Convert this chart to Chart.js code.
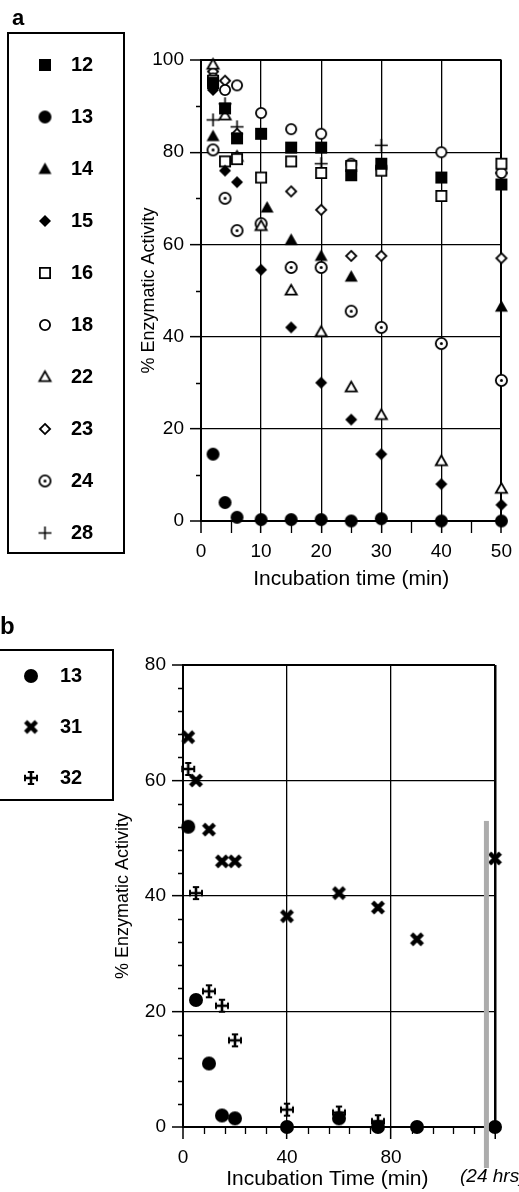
<!DOCTYPE html>
<html>
<head>
<meta charset="utf-8">
<script src="https://cdn.jsdelivr.net/npm/chart.js@4/dist/chart.umd.min.js"></script>
<style>
  html, body { margin: 0; padding: 0; background: #fff; }
  body { width: 519px; height: 1192px; position: relative; overflow: hidden; }
  canvas { position: absolute; left: 0; }
  #chartA { top: 0; }
  #chartB { top: 600px; }
</style>
</head>
<body>
<canvas id="chartA" width="519" height="600"></canvas>
<canvas id="chartB" width="519" height="592"></canvas>
<script>
// ---- panel a : % enzymatic activity vs incubation time (min)
const timesA = [2, 4, 6, 10, 11, 15, 20, 25, 30, 40, 50];
const act12 = [95, 89.5, 83, 84, null, 81, 81, 75, 77.5, 74.5, 73];
const act13 = [14.5, 4, 0.8, 0.3, null, 0.3, 0.3, 0, 0.5, 0, 0];
const act14 = [83.5, null, null, null, 68, 61, 57.5, 53, null, null, 46.5];
const act15 = [93.5, 76, 73.5, 54.5, null, 42, 30, 22, 14.5, 8, 3.5];
const act16 = [95.5, 78, 78.5, 74.5, null, 78, 75.5, 77, 76, 70.5, 77.5];
const act18 = [96, 93.5, 94.5, 88.5, null, 85, 84, 77.5, 76.5, 80, 75.5];
const act22 = [99, 88, 79, 64, null, 50, 41, 29, 23, 13, 7];
const act23 = [97.5, 95.5, 84, null, null, 71.5, 67.5, 57.5, 57.5, null, 57];
const act24 = [80.5, 70, 63, 64.5, null, 55, 55, 45.5, 42, 38.5, 30.5];
const act28 = [87, 90.5, 85.5, null, null, null, 77.5, null, 81.5, null, 75.5];
const ticksA_x = [0, 10, 20, 30, 40, 50];
const ticksA_y = [0, 20, 40, 60, 80, 100];

// ---- panel b
const timesB = [2, 5, 10, 15, 20, 40, 60, 75, 90, 120]; // 120 = the 24 hrs point
const actB13 = [52, 22, 11, 2, 1.5, 0, 1.5, 0, 0, 0];
const actB31 = [67.5, 60, 51.5, 46, 46, 36.5, 40.5, 38, 32.5, 46.5];
const actB32 = [62, 40.5, 23.5, 21, 15, 3, 2.5, 1, null, null];
const ticksB_x = [0, 40, 80];
const ticksB_y = [0, 20, 40, 60, 80];
const breakAt = 116.7;

const FONT = 'Liberation Sans';

// little canvases used as point styles (and in the boxed legends)
function sym(kind, s) {
  const c = document.createElement('canvas');
  c.width = c.height = Math.ceil(s + 6);
  const g = c.getContext('2d');
  const m = c.width / 2;
  let r = s / 2;
  g.fillStyle = '#000';
  g.strokeStyle = '#000';
  const open = /O$/.test(kind) || kind === 'cirDot';
  g.lineWidth = 1.8;
  if (open) r -= 0.9;
  const path = () => {
    g.beginPath();
    if (kind.startsWith('sq')) g.rect(m - r, m - r, 2 * r, 2 * r);
    else if (kind.startsWith('cir')) g.arc(m, m, r, 0, Math.PI * 2);
    else if (kind.startsWith('tri')) {
      g.moveTo(m, m - r); g.lineTo(m + r, m + r * 0.75); g.lineTo(m - r, m + r * 0.75); g.closePath();
    } else if (kind.startsWith('dia')) {
      g.moveTo(m, m - r); g.lineTo(m + r, m); g.lineTo(m, m + r); g.lineTo(m - r, m); g.closePath();
    }
  };
  if (kind === 'plus') {
    g.lineWidth = 1.6;
    g.beginPath();
    g.moveTo(m - r, m); g.lineTo(m + r, m);
    g.moveTo(m, m - r); g.lineTo(m, m + r);
    g.stroke();
  } else if (kind === 'xBold') {
    g.lineWidth = 4.4;
    const e = r * 0.72;
    g.beginPath();
    g.moveTo(m - e, m - e); g.lineTo(m + e, m + e);
    g.moveTo(m + e, m - e); g.lineTo(m - e, m + e);
    g.stroke();
  } else if (kind === 'crossP') {
    g.lineWidth = 2.6;
    g.beginPath();
    g.moveTo(m - r, m); g.lineTo(m + r, m);
    g.moveTo(m, m - r); g.lineTo(m, m + r);
    g.stroke();
    g.lineWidth = 2;
    const b = r * 0.45;
    g.beginPath();
    g.moveTo(m - b, m - r + 1); g.lineTo(m + b, m - r + 1);
    g.moveTo(m - b, m + r - 1); g.lineTo(m + b, m + r - 1);
    g.moveTo(m - r + 1, m - b); g.lineTo(m - r + 1, m + b);
    g.moveTo(m + r - 1, m - b); g.lineTo(m + r - 1, m + b);
    g.stroke();
  } else {
    path();
    if (open) {
      g.fillStyle = '#fff'; g.fill(); g.stroke();
      if (kind === 'cirDot') {
        g.fillStyle = '#000';
        g.beginPath(); g.arc(m, m, 1.5, 0, Math.PI * 2); g.fill();
      }
    } else g.fill();
  }
  return c;
}

function pts(xs, ys) {
  const out = [];
  xs.forEach((x, i) => { if (ys[i] !== null) out.push({ x: x, y: ys[i] }); });
  return out;
}

function ds(label, xs, ys, style) {
  return { label: label, data: pts(xs, ys), pointStyle: style, pointRadius: 6, showLine: false, clip: false };
}

// minor tick marks (shorter than the labelled ones)
const minorTicks = {
  id: 'minorTicks',
  afterDraw(chart, args, o) {
    const ctx = chart.ctx, a = chart.chartArea, sx = chart.scales.x, sy = chart.scales.y;
    ctx.save();
    ctx.strokeStyle = '#000';
    ctx.lineWidth = 1.3;
    ctx.beginPath();
    for (let v = sx.min; v <= sx.max; v += o.xStep) {
      if (v % o.xMajor === 0) continue;
      const p = Math.round(sx.getPixelForValue(v)) + 0.5;
      ctx.moveTo(p, a.bottom); ctx.lineTo(p, a.bottom + o.xLen);
    }
    for (let v = sy.min; v <= sy.max; v += o.yStep) {
      if (v % o.yMajor === 0) continue;
      const p = Math.round(sy.getPixelForValue(v)) + 0.5;
      ctx.moveTo(a.left, p); ctx.lineTo(a.left - o.yLen, p);
    }
    ctx.stroke();
    ctx.restore();
  }
};

// boxed legend at the left + panel letter
const boxLegend = {
  id: 'boxLegend',
  afterDraw(chart, args, o) {
    const ctx = chart.ctx;
    ctx.save();
    ctx.strokeStyle = '#000';
    ctx.lineWidth = 2;
    ctx.strokeRect(o.box[0], o.box[1], o.box[2] - o.box[0], o.box[3] - o.box[1]);
    ctx.fillStyle = '#000';
    ctx.textBaseline = 'middle';
    ctx.textAlign = 'left';
    ctx.font = 'bold ' + o.fontSize + 'px "' + FONT + '"';
    chart.data.datasets.forEach((d, i) => {
      const y = o.rowTop + i * o.rowGap;
      const img = o.symbols[i];
      ctx.drawImage(img, o.symX - img.width / 2, y - img.height / 2);
      ctx.fillText(d.label, o.textX, y);
    });
    ctx.font = 'bold ' + o.letterSize + 'px "' + FONT + '"';
    ctx.fillText(o.letter, o.letterX, o.letterY);
    ctx.restore();
  }
};

// axis break marker + 24 hrs label for panel b
const axisBreak = {
  id: 'axisBreak',
  afterDraw(chart, args, o) {
    if (!o.on) return;
    const ctx = chart.ctx, a = chart.chartArea, sx = chart.scales.x, sy = chart.scales.y;
    const px = sx.getPixelForValue(breakAt);
    const top = sy.getPixelForValue(53);
    ctx.save();
    ctx.fillStyle = '#acacac';
    ctx.fillRect(px - 2.5, top, 5, a.bottom + 41 - top);
    ctx.fillStyle = '#000';
    ctx.font = 'italic 19px "' + FONT + '"';
    ctx.textBaseline = 'middle';
    ctx.textAlign = 'left';
    ctx.fillText('(24 hrs)', sx.getPixelForValue(120) - 35, a.bottom + 50);
    ctx.restore();
  }
};

function makeChart(id, o) {
  const majorX = o.ticksX, majorY = o.ticksY;
  const xMax = o.xMax, yMax = majorY[majorY.length - 1];
  const lw = (v, max) => (v === 0 || v === max ? 2 : 1.3);
  return new Chart(document.getElementById(id), {
    type: 'scatter',
    data: { datasets: o.datasets },
    options: {
      responsive: false,
      animation: false,
      events: [],
      layout: { padding: o.padding },
      scales: {
        x: {
          type: 'linear', min: 0, max: xMax,
          afterBuildTicks: s => { s.ticks = o.gridX.map(v => ({ value: v })); },
          afterFit: s => { s.height = o.xHeight; },
          ticks: {
            autoSkip: false, maxRotation: 0, padding: 7, color: '#000',
            font: { family: FONT, size: 19 },
            callback: v => (majorX.includes(v) ? String(v) : '')
          },
          grid: {
            color: '#000', tickColor: '#000', tickLength: 12, tickWidth: 1.5,
            lineWidth: c => lw(c.tick.value, xMax) + (c.tick.value === xMax ? o.rightExtra : 0)
          },
          border: { display: true, color: '#000', width: 2 },
          title: {
            display: true, text: o.xTitle, color: '#000', padding: 0,
            font: { family: FONT, size: 21 }
          }
        },
        y: {
          type: 'linear', min: 0, max: yMax,
          afterBuildTicks: s => { s.ticks = majorY.map(v => ({ value: v })); },
          afterFit: s => { s.width = o.yWidth; },
          ticks: {
            autoSkip: false, padding: 6, color: '#000',
            font: { family: FONT, size: 19 }
          },
          grid: {
            color: '#000', tickColor: '#000', tickLength: 11, tickWidth: 1.5,
            lineWidth: c => lw(c.tick.value, yMax)
          },
          border: { display: true, color: '#000', width: 2 },
          title: {
            display: true, text: '% Enzymatic Activity', color: '#000', padding: 0,
            font: { family: FONT, size: 18 }
          }
        }
      },
      plugins: {
        legend: { display: false },
        tooltip: { enabled: false },
        minorTicks: o.minor,
        boxLegend: o.legend,
        axisBreak: { on: !!o.brk }
      }
    },
    plugins: [minorTicks, boxLegend, axisBreak]
  });
}

// panel a
const symA = [sym('sqF', 12), sym('cirF', 13), sym('triF', 13), sym('diaF', 12), sym('sqO', 12),
              sym('cirO', 12), sym('triO', 13), sym('diaO', 12), sym('cirDot', 13), sym('plus', 13)];
const seriesA = [act12, act13, act14, act15, act16, act18, act22, act23, act24, act28];
const labelsA = ['12', '13', '14', '15', '16', '18', '22', '23', '24', '28'];
makeChart('chartA', {
  datasets: seriesA.map((s, i) => ds(labelsA[i], timesA, s, symA[i])),
  ticksX: ticksA_x, ticksY: ticksA_y, gridX: ticksA_x, xMax: 50,
  padding: { left: 138, right: 12, top: 60, bottom: 8 },
  xHeight: 71, yWidth: 63, rightExtra: 0,
  xTitle: 'Incubation time (min)',
  minor: { xStep: 5, xMajor: 10, xLen: 12, yStep: 10, yMajor: 20, yLen: 5 },
  legend: {
    box: [8, 33, 124, 553], symX: 45, textX: 71, rowTop: 65, rowGap: 52,
    fontSize: 20, symbols: symA, letter: 'a', letterX: 12, letterY: 19, letterSize: 22
  }
});

// panel b
const symB = [sym('cirF', 14), sym('xBold', 15), sym('crossP', 14)];
makeChart('chartB', {
  datasets: [
    ds('13', timesB, actB13, symB[0]),
    ds('31', timesB, actB31, symB[1]),
    ds('32', timesB, actB32, symB[2])
  ],
  ticksX: ticksB_x, ticksY: ticksB_y, gridX: [0, 40, 80, 120], xMax: 120,
  padding: { left: 112, right: 24, top: 65, bottom: 0 },
  xHeight: 65, yWidth: 71, rightExtra: 0.5,
  xTitle: 'Incubation Time (min)    ',
  minor: { xStep: 8, xMajor: 40, xLen: 7, yStep: 4, yMajor: 20, yLen: 5 },
  legend: {
    box: [-2, 50, 113, 200], symX: 31, textX: 60, rowTop: 76, rowGap: 51,
    fontSize: 20, symbols: symB, letter: 'b', letterX: 0, letterY: 27, letterSize: 24
  },
  brk: true
});
</script>
</body>
</html>
